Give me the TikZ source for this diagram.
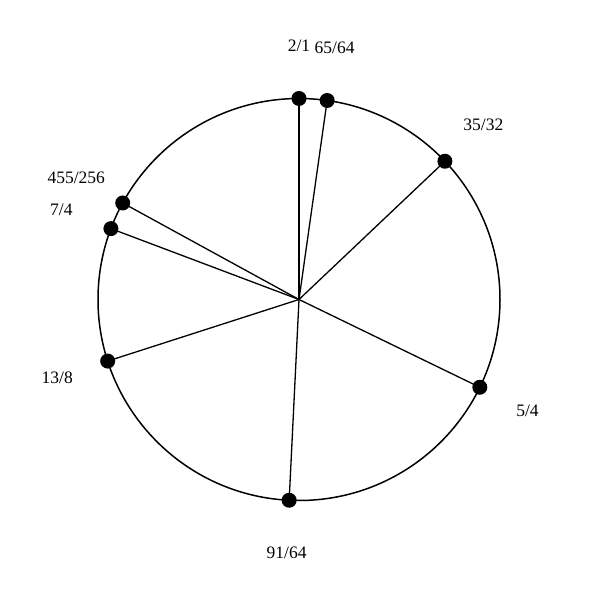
\documentclass[tikz,border=0pt]{standalone}
\usepackage{fontspec}
\setmainfont{Liberation Serif}
\usetikzlibrary{calc}
\begin{document}
\begin{tikzpicture}[x=1pt,y=1pt,
  rim/.style={line width=1.5pt},
  spoke/.style={line width=1.3pt},
  dot/.style={circle,fill=black,inner sep=0pt,minimum size=15pt},
  lab/.style={font=\fontsize{17.5}{17.5}\selectfont,inner sep=0pt}]
\useasboundingbox (0,0) rectangle (600,600);
\coordinate (c) at (299,300.5);
\draw[rim] (c) circle (201);
\foreach \n/\a/\t in {a/90/2\slash 1, b/81.948/65\slash 64, d/43.458/35\slash 32, e/-25.894/5\slash 4, f/-92.806/91\slash 64, g/-162.158/13\slash 8, h/159.352/7\slash 4, i/151.300/455\slash 256}{
  \node[dot] (p\n) at ($(c)+(\a:201)$) {};
  \draw[spoke] (c) -- (p\n.center);
  \node[lab] (l\n) at ($(c)+(\a:254)$) {\t};
}
\end{tikzpicture}
\end{document}
